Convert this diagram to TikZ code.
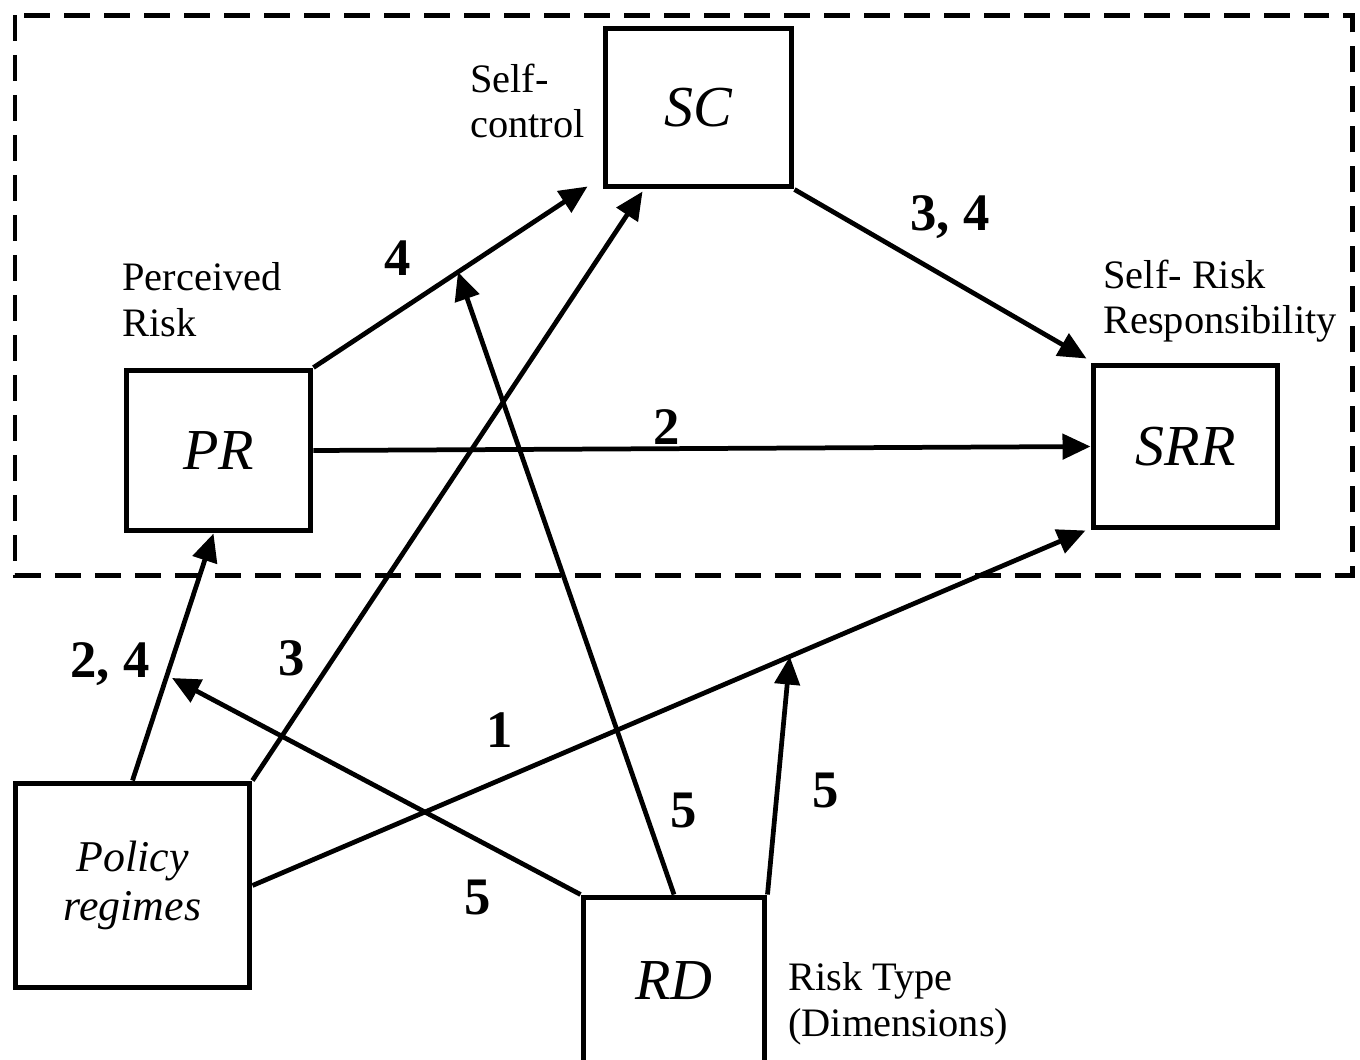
\documentclass[tikz,border=0pt]{standalone}
\usepackage{fontspec}
\setmainfont{Liberation Serif}
\usetikzlibrary{arrows.meta,calc}
\begin{document}
\begin{tikzpicture}[x=0.02cm,y=-0.02cm,
  box/.style={draw,line width=0.1cm,inner sep=0pt,font=\itshape\fontsize{33}{36}\selectfont},
  lbl/.style={font=\fontsize{23}{26}\selectfont,align=left,anchor=west,inner sep=0pt},
  num/.style={font=\bfseries\fontsize{30}{30}\selectfont,inner sep=0pt},
  arr/.style={line width=0.095cm,-{Triangle[length=0.56cm,width=0.5cm]}}]
\useasboundingbox (0,0) rectangle (1360,1059);
\clip (0,0) rectangle (1360,1059);
% dashed frame
\draw[line width=0.1cm,dash pattern=on 0.52cm off 0.28cm] (15,15) rectangle (1352,575);
% boxes
\node[box,minimum width=3.74cm,minimum height=3.18cm] (SC) at (698.5,107.5) {SC};
\node[box,minimum width=3.70cm,minimum height=3.22cm] (PR) at (218.5,450.5) {PR};
\node[box,minimum width=3.70cm,minimum height=3.26cm] (SRR) at (1185.5,446.5) {SRR};
\node[box,minimum width=4.70cm,minimum height=4.10cm,align=center,font=\itshape\fontsize{25}{28}\selectfont] (PO) at (132.5,885.5) {Policy\\regimes};
\node[box,minimum width=3.64cm,minimum height=3.56cm] (RD) at (674,986) {\raisebox{0.2cm}{RD}};
% labels
\node[lbl] (lsc) at (470,101) {Self-\\control};
\node[lbl] (lpr) at (122,300) {Perceived\\Risk};
\node[lbl] (lsrr) at (1103,301) {Self- Risk\\Responsibility};
\node[lbl] (lrd) at (788,1004) {Risk Type\\(Dimensions)};
% free ends
\coordinate (t7) at (172,678);
\coordinate (t8) at (458,272);
\coordinate (t9) at ($(PO.east)!0.645!($(SRR.south west)+(-5,0)$)$);
% connectors
\draw[arr] (PR.north east) -- ($(SC.south west)+(-15,-3)$);
\draw[arr] (SC.south east) -- ($(SRR.north west)+(-4,-4)$);
\draw[arr] (PR.east) -- (SRR.west);
\draw[arr] (PO.north) -- ($(PR.south)+(-5,0)$);
\draw[arr] (PO.north east) -- ($(SC.south west)+(40,2)$);
\draw[arr] (PO.east) -- ($(SRR.south west)+(-5,0)$);
\draw[arr] (RD.north west) -- (t7);
\draw[arr] (RD.north) -- (t8);
\draw[arr] (RD.north east) -- (t9);
% number labels
\node[num] (n1) at (398,258) {4};
\node[num] (n2) at (950,217) {3, 4};
\node[num] (n3) at (667,427) {2};
\node[num] (n4) at (110,664) {2, 4};
\node[num] (n5) at (292,658) {3};
\node[num] (n6) at (500,730) {1};
\node[num] (n7) at (478,897) {5};
\node[num] (n8) at (684,810) {5};
\node[num] (n9) at (826,790) {5};
\end{tikzpicture}
\end{document}
